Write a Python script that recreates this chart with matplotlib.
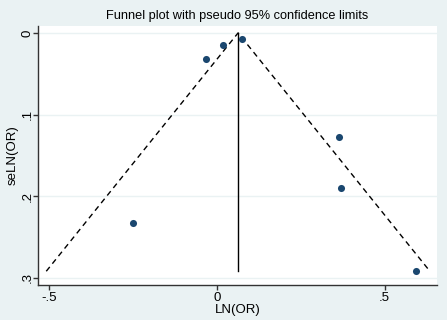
import matplotlib.pyplot as plt
import numpy as np

plt.rcParams['font.family'] = ['Liberation Sans', 'DejaVu Sans']

# study estimates
ln_or = [0.075, 0.018, -0.033, 0.364, 0.370, -0.251, 0.594]
se_ln_or = [0.0074, 0.0147, 0.032, 0.128, 0.190, 0.233, 0.292]
pooled = 0.063

xticks = [-0.5, 0, 0.5]
xticklabels = ['-.5', '0', '.5']
yticks = [0, 0.1, 0.2, 0.3]
yticklabels = ['0', '.1', '.2', '.3']

bg = '#eaf2f3'
navy = '#1a476f'

fig = plt.figure(figsize=(4.47, 3.20), dpi=100, facecolor=bg)
ax = fig.add_axes([0.085, 0.109, 0.893, 0.810])
ax.set_facecolor('white')

se_max = max(se_ln_or)
ax.plot([pooled - 1.96 * se_max, pooled, pooled + 1.96 * se_max], [se_max, 0, se_max],
        color='black', lw=1, ls=(0, (4, 3)), zorder=2)
ax.plot([pooled, pooled], [0, se_max], color='black', lw=1, zorder=2)
ax.scatter(ln_or, se_ln_or, s=26, color=navy, zorder=3, linewidths=0)

ax.set_xlim(-0.534, 0.657)
ax.set_ylim(0.309, -0.0086)
ax.set_xticks(xticks)
ax.set_xticklabels(xticklabels)
ax.set_yticks(yticks)
ax.set_yticklabels(yticklabels, rotation=90, va='center')

ax.grid(axis='y', color=bg, lw=1)
ax.set_axisbelow(True)
for side in ['top', 'right']:
    ax.spines[side].set_visible(False)
for side in ['left', 'bottom']:
    ax.spines[side].set_color('#333333')
    ax.spines[side].set_linewidth(1)
ax.tick_params(length=3.6, width=1, color='#333333', labelsize=9.5, pad=1.5)
ax.tick_params(axis='y', pad=-0.5)

ax.set_xlabel('LN(OR)', fontsize=9.5, labelpad=0)
ax.set_ylabel('seLN(OR)', fontsize=9.5)
ax.yaxis.set_label_coords(-0.049, 0.5)
ax.set_title('Funnel plot with pseudo 95% confidence limits', fontsize=9.2, pad=5)

fig.savefig('out.png', dpi=100, facecolor=bg)
